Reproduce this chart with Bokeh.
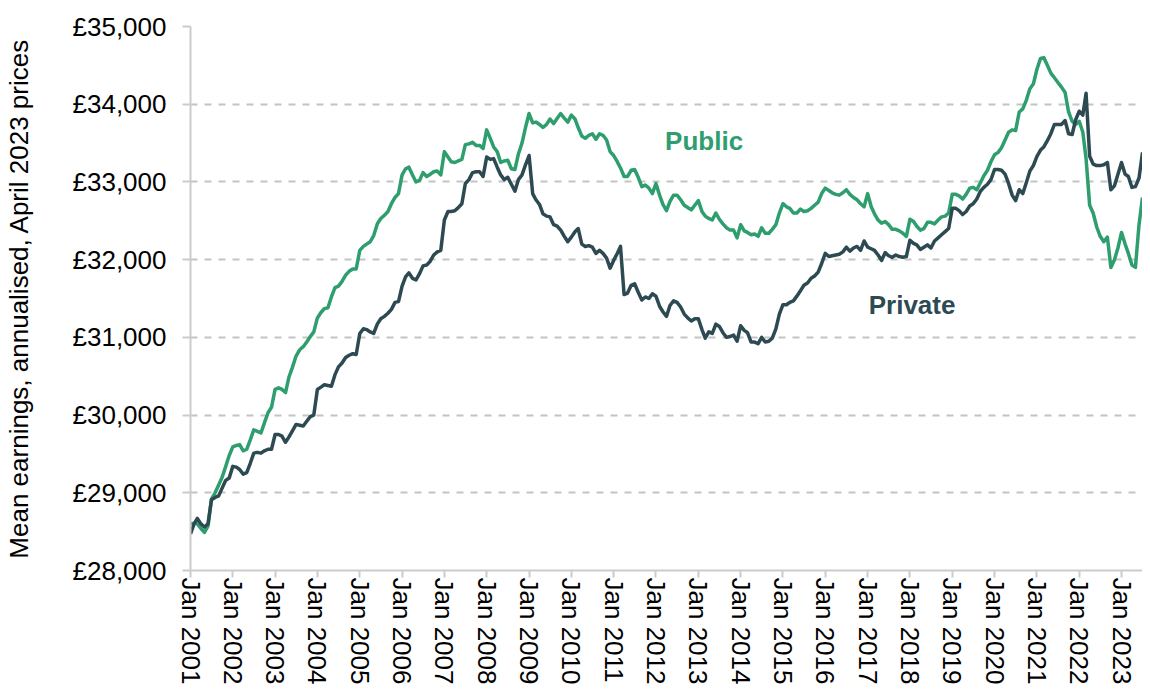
import pandas as pd
from bokeh.plotting import figure
from bokeh.models import Range1d, FixedTicker, DatetimeTickFormatter, Label
from bokeh.embed import file_html
from bokeh.resources import INLINE

start_month = "2001-01"

public = [
    28600, 28610, 28600, 28540, 28490, 28570, 28920, 29000, 29100, 29200, 29340, 29480,
    29590, 29610, 29620, 29540, 29560, 29680, 29810, 29790, 29770, 29900, 30030, 30100,
    30330, 30350, 30330, 30290, 30490, 30620, 30760, 30840, 30880, 30940, 31010, 31070,
    31250, 31320, 31370, 31380, 31520, 31640, 31660, 31720, 31800, 31850, 31880, 31880,
    32120, 32170, 32200, 32230, 32310, 32460, 32530, 32570, 32620, 32720, 32800, 32850,
    33090, 33170, 33190, 33090, 33000, 33020, 33120, 33070, 33100, 33130, 33140, 33090,
    33390, 33320, 33260, 33250, 33270, 33290, 33480, 33490, 33510, 33470, 33470, 33430,
    33670, 33560, 33450, 33390, 33250, 33270, 33280, 33170, 33160, 33360, 33500, 33700,
    33880, 33760, 33770, 33740, 33700, 33740, 33810, 33750, 33820, 33880, 33820, 33770,
    33860, 33810, 33700, 33590, 33560, 33600, 33620, 33550, 33620, 33600, 33540, 33390,
    33340, 33260, 33180, 33070, 33070, 33150, 33160, 33060, 32940, 32960, 32920, 32850,
    32980, 32830, 32710, 32630, 32750, 32830, 32830, 32770, 32700, 32670, 32640, 32700,
    32760, 32620, 32560, 32530, 32510, 32600, 32520, 32460, 32410, 32380, 32380, 32280,
    32450, 32370, 32350, 32320, 32330, 32300, 32410, 32340, 32340, 32390, 32450, 32600,
    32720, 32680, 32660, 32600, 32600, 32650, 32620, 32630, 32660, 32700, 32740, 32850,
    32920, 32890, 32860, 32840, 32830, 32860, 32900, 32840, 32800, 32770, 32720, 32680,
    32850, 32680, 32590, 32510, 32470, 32490, 32450, 32390, 32390, 32370, 32340, 32300,
    32520, 32490, 32430, 32380, 32400, 32480, 32480, 32460, 32510, 32550, 32560, 32600,
    32840, 32840, 32820, 32780, 32840, 32920, 32930, 32900, 32990, 33080, 33150, 33260,
    33350, 33380, 33440, 33540, 33640, 33670, 33660, 33900, 33940, 34050, 34200, 34260,
    34450, 34590, 34600, 34500, 34400, 34340, 34280, 34220, 34150, 33900, 33780, 33740,
    33780, 33640, 33300, 32700, 32600, 32420, 32300, 32230, 32290, 31900, 32000, 32150,
    32350, 32200, 32080, 31930, 31900, 32450, 32800,
]

private = [
    28470, 28600, 28670, 28600, 28560, 28600, 28910, 28940, 28960, 29060, 29160, 29190,
    29340, 29330, 29300, 29240, 29260, 29380, 29510, 29520, 29510, 29540, 29560, 29560,
    29750, 29750, 29730, 29650, 29720, 29800, 29880, 29870, 29860, 29920, 29980, 30000,
    30330, 30360, 30390, 30380, 30370, 30520, 30620, 30670, 30740, 30770, 30790, 30780,
    31050, 31110, 31100, 31070, 31050, 31170, 31240, 31270, 31310, 31360, 31450, 31460,
    31660, 31780, 31830, 31760, 31740, 31820, 31920, 31930, 31980, 32060, 32100, 32120,
    32510, 32620, 32620, 32630, 32670, 32720, 32980, 33030, 33120, 33130, 33130, 33070,
    33320, 33290, 33300, 33190, 33090, 33030, 33060, 32970, 32880, 33030, 33090, 33220,
    33340, 32850, 32770, 32710, 32590, 32560, 32550, 32450, 32430, 32380, 32300, 32230,
    32290, 32360, 32400, 32200, 32170, 32180, 32160, 32080, 32120, 32080, 32020, 31890,
    31990, 32080, 32170, 31550, 31570, 31670, 31690, 31580, 31480, 31520, 31500, 31560,
    31530, 31400, 31330, 31270, 31410, 31470, 31450, 31390, 31300, 31250, 31210, 31240,
    31240, 31100, 30990, 31070, 31050, 31170, 31140, 31060, 31000, 31010, 31030, 30950,
    31150, 31090, 31060, 30940, 30940, 30920, 31000, 30940, 30950, 30990, 31110, 31300,
    31420, 31420, 31450, 31470, 31530, 31600, 31670, 31700, 31760, 31790, 31840, 31950,
    32080, 32040, 32050, 32060, 32070, 32100, 32160, 32110, 32150, 32170, 32120, 32240,
    32160, 32140, 32120, 32060, 31990, 32090, 32050, 32030, 32060, 32040, 32030, 32040,
    32250, 32210, 32190, 32130, 32160, 32190, 32150, 32240, 32280, 32320, 32360, 32400,
    32660, 32660, 32630, 32580, 32620, 32690, 32720, 32780, 32880, 32930, 32970, 33030,
    33160, 33160, 33150, 33100, 32980, 32830, 32760, 32900, 32850, 32990, 33140, 33210,
    33330, 33410, 33450, 33530, 33620, 33740, 33740, 33740, 33790, 33620, 33610, 33800,
    33910, 33860, 34140, 33330, 33230, 33210, 33210, 33220, 33250, 32900, 32950, 33100,
    33250, 33100, 33070, 32930, 32940, 33050, 33380,
]

y_ticks = [28000, 29000, 30000, 31000, 32000, 33000, 34000, 35000]
tick_years = list(range(2001, 2024))

series_names = ["Public", "Private"]
series_colors = ["#2e9e6e", "#2d4a53"]
label_pos = [("2012-03-20", 33530), ("2017-01-10", 31410)]

FONT = "Liberation Sans"

dates = pd.date_range(start_month, periods=len(public), freq="MS")
tick_ms = [pd.Timestamp(f"{y}-01-01").timestamp() * 1000 for y in tick_years]

p = figure(
    width=1142, height=687,
    x_axis_type="datetime",
    x_range=Range1d(dates[0], dates[-1]),
    y_range=Range1d(y_ticks[0], y_ticks[-1]),
    output_backend="svg", toolbar_location=None,
    min_border_left=190, min_border_right=0,
    min_border_top=26, min_border_bottom=116,
)
p.outline_line_color = None
p.background_fill_color = "white"
p.border_fill_color = "white"

for vals, col in zip([public, private], series_colors):
    p.line(dates, vals, line_color=col, line_width=3.5, line_join="round")

# grid
p.xgrid.grid_line_color = None
p.ygrid.grid_line_color = "#c4c4c4"
p.ygrid.grid_line_width = 2
p.ygrid.grid_line_dash = "7 7"
p.ygrid.ticker = FixedTicker(ticks=y_ticks)

# y axis
p.yaxis.ticker = FixedTicker(ticks=y_ticks)
p.yaxis.major_label_overrides = {t: f"£{t:,}" for t in y_ticks}
p.yaxis.axis_label = "Mean earnings, annualised, April 2023 prices"
p.yaxis.axis_label_text_font = FONT
p.yaxis.axis_label_text_font_size = "26px"
p.yaxis.axis_label_text_font_style = "normal"
p.yaxis.axis_label_text_color = "#000000"
p.yaxis.axis_label_standoff = 36
p.yaxis.major_label_standoff = 16

# x axis
p.xaxis.ticker = FixedTicker(ticks=tick_ms)
p.xaxis.formatter = DatetimeTickFormatter(
    years="%b %Y", months="%b %Y", days="%b %Y", hours="%b %Y",
    minutes="%b %Y", seconds="%b %Y", milliseconds="%b %Y", microseconds="%b %Y",
)
p.xaxis.major_label_orientation = "vertical"
p.xaxis.major_label_standoff = 0

for ax in (p.xaxis, p.yaxis):
    ax.axis_line_color = "#cccccc"
    ax.axis_line_width = 2
    ax.major_tick_line_color = "#cccccc"
    ax.major_tick_line_width = 2
    ax.major_tick_in = 0
    ax.major_tick_out = 8
    ax.minor_tick_line_color = None
    ax.major_label_text_font = FONT
    ax.major_label_text_font_size = "26px"
    ax.major_label_text_color = "#000000"
p.xaxis.major_tick_out = 7

for name, col, (xd, yv) in zip(series_names, series_colors, label_pos):
    p.add_layout(Label(
        x=pd.Timestamp(xd).timestamp() * 1000, y=yv, text=name,
        text_font=FONT, text_font_size="26px", text_font_style="bold",
        text_color=col, text_baseline="middle", text_align="left",
    ))

open("out.html", "w").write(file_html(p, INLINE))
